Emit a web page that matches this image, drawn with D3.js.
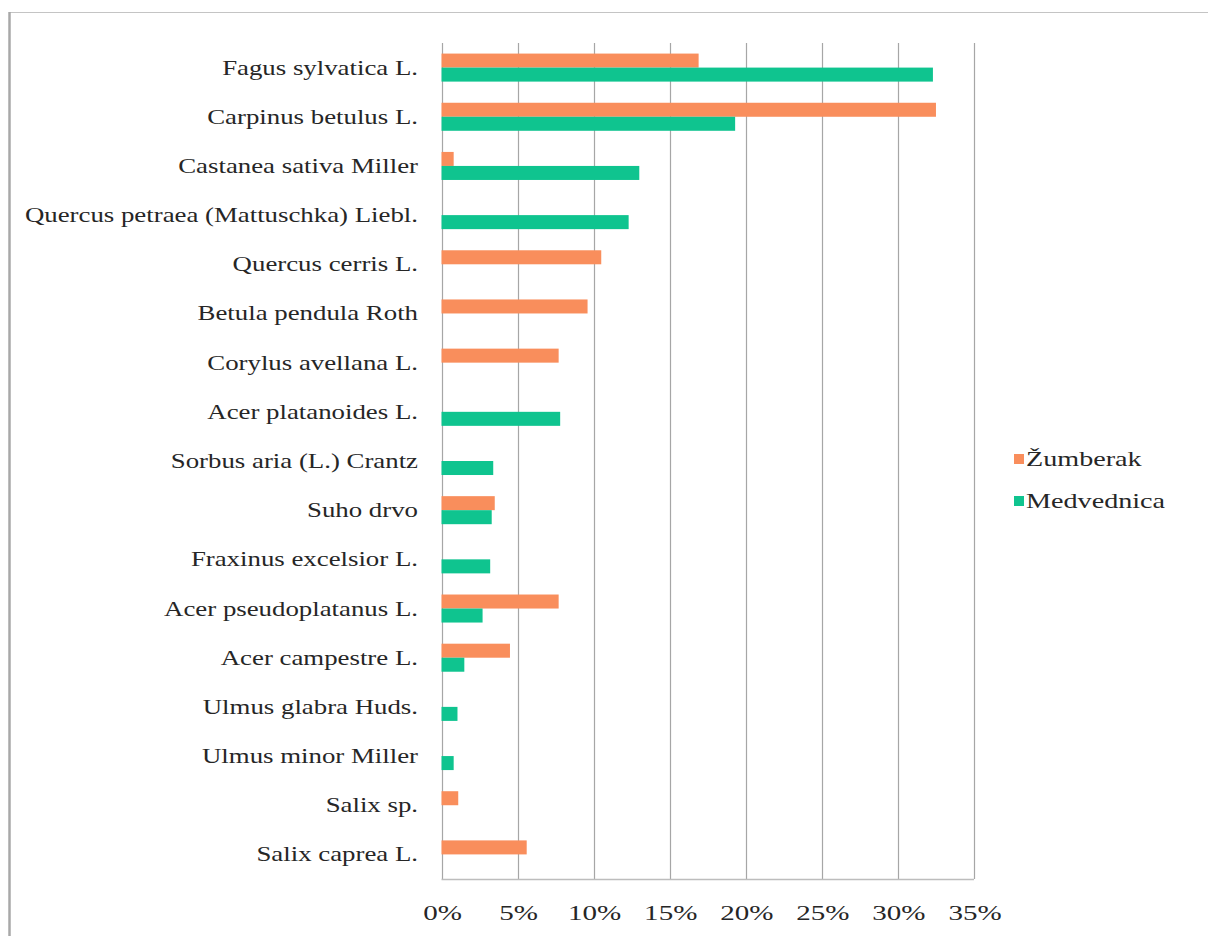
<!DOCTYPE html>
<html>
<head>
<meta charset="utf-8">
<script src="https://cdn.jsdelivr.net/npm/d3@7"></script>
<style>
  body { margin: 0; background: #fff; }
  text { font-family: "Liberation Serif", "Times New Roman", serif; fill: #262626; }
</style>
</head>
<body>
<script>
//species, top to bottom
var categories = ["Fagus sylvatica L.", "Carpinus betulus L.", "Castanea sativa Miller",
    "Quercus petraea (Mattuschka) Liebl.", "Quercus cerris L.", "Betula pendula Roth",
    "Corylus avellana L.", "Acer platanoides L.", "Sorbus aria (L.) Crantz", "Suho drvo",
    "Fraxinus excelsior L.", "Acer pseudoplatanus L.", "Acer campestre L.",
    "Ulmus glabra Huds.", "Ulmus minor Miller", "Salix sp.", "Salix caprea L."];

var seriesNames = ["Žumberak", "Medvednica"];

//share in percent
var zumberak   = [16.9, 32.5, 0.8, 0, 10.5, 9.6, 7.7, 0, 0, 3.5, 0, 7.7, 4.5, 0, 0, 1.1, 5.6];
var medvednica = [32.3, 19.3, 13.0, 12.3, 0, 0, 0, 7.8, 3.4, 3.3, 3.2, 2.7, 1.5, 1.05, 0.8, 0, 0];

var ticks = [0, 5, 10, 15, 20, 25, 30, 35];
var colors = ["#f98e5c", "#0fc48f"];

var width = 1208,
    height = 936;

var svg = d3.select("body")
    .append("svg")
    .attr("width", width)
    .attr("height", height);

//chart frame
svg.append("rect")
    .attr("x", 9.5).attr("y", 12.5)
    .attr("width", 1220).attr("height", 940)
    .attr("fill", "none")
    .attr("stroke", "#c4c4c4")
    .attr("stroke-width", 1);
svg.append("line")
    .attr("x1", 9.5).attr("x2", 9.5)
    .attr("y1", 12).attr("y2", height)
    .attr("stroke", "#a8a8a8")
    .attr("stroke-width", 2.5);

var x = d3.scaleLinear()
    .domain([0, 35])
    .range([441.5, 974]);

var y = d3.scaleBand()
    .domain(categories)
    .range([43, 879])
    .paddingInner(0.43)
    .paddingOuter(0.215);

var ySub = d3.scaleBand()
    .domain(seriesNames)
    .range([0, y.bandwidth()]);

//gridlines
svg.append("g")
    .selectAll("line")
    .data(ticks)
    .enter()
    .append("line")
    .attr("x1", function(d){ return Math.round(x(d)) + 0.5; })
    .attr("x2", function(d){ return Math.round(x(d)) + 0.5; })
    .attr("y1", 43)
    .attr("y2", 879)
    .attr("stroke", "#a6a6a6")
    .attr("stroke-width", 1.2);

svg.append("line")
    .attr("x1", x(0)).attr("x2", x(35))
    .attr("y1", 879.5).attr("y2", 879.5)
    .attr("stroke", "#bdbdbd")
    .attr("stroke-width", 1.5);

//bars
var rows = categories.map(function(c, i){
    return { cat: c, values: [zumberak[i], medvednica[i]] };
});

var groups = svg.append("g")
    .selectAll(".row")
    .data(rows)
    .enter()
    .append("g")
    .attr("class", "row")
    .attr("transform", function(d){ return "translate(0," + y(d.cat) + ")"; });

groups.selectAll("rect")
    .data(function(d){
        return d.values.map(function(v, j){ return { name: seriesNames[j], value: v, j: j }; });
    })
    .enter()
    .append("rect")
    .filter(function(d){ return d.value > 0; })
    .attr("x", x(0))
    .attr("y", function(d){ return ySub(d.name); })
    .attr("width", function(d){ return x(d.value) - x(0); })
    .attr("height", ySub.bandwidth())
    .attr("fill", function(d){ return colors[d.j]; });

//category labels
svg.append("g")
    .selectAll("text")
    .data(categories)
    .enter()
    .append("text")
    .attr("transform", function(d){
        return "translate(418," + (y(d) + y.bandwidth() / 2 + 7) + ") scale(1.22,1)";
    })
    .attr("text-anchor", "end")
    .style("font-size", "22px")
    .text(function(d){ return d; });

//tick labels
svg.append("g")
    .selectAll("text")
    .data(ticks)
    .enter()
    .append("text")
    .attr("transform", function(d){ return "translate(" + (x(d) + 1) + ",920) scale(1.32,1)"; })
    .attr("text-anchor", "middle")
    .style("font-size", "22px")
    .text(function(d){ return d + "%"; });

//legend
var legend = svg.append("g")
    .selectAll("g")
    .data(seriesNames)
    .enter()
    .append("g")
    .attr("transform", function(d, i){ return "translate(1014," + (459 + i * 42) + ")"; });

legend.append("rect")
    .attr("x", 0).attr("y", -5)
    .attr("width", 10).attr("height", 10)
    .attr("fill", function(d, i){ return colors[i]; });

legend.append("text")
    .attr("transform", "translate(12,7) scale(1.28,1)")
    .style("font-size", "22px")
    .text(function(d){ return d; });
</script>
</body>
</html>
